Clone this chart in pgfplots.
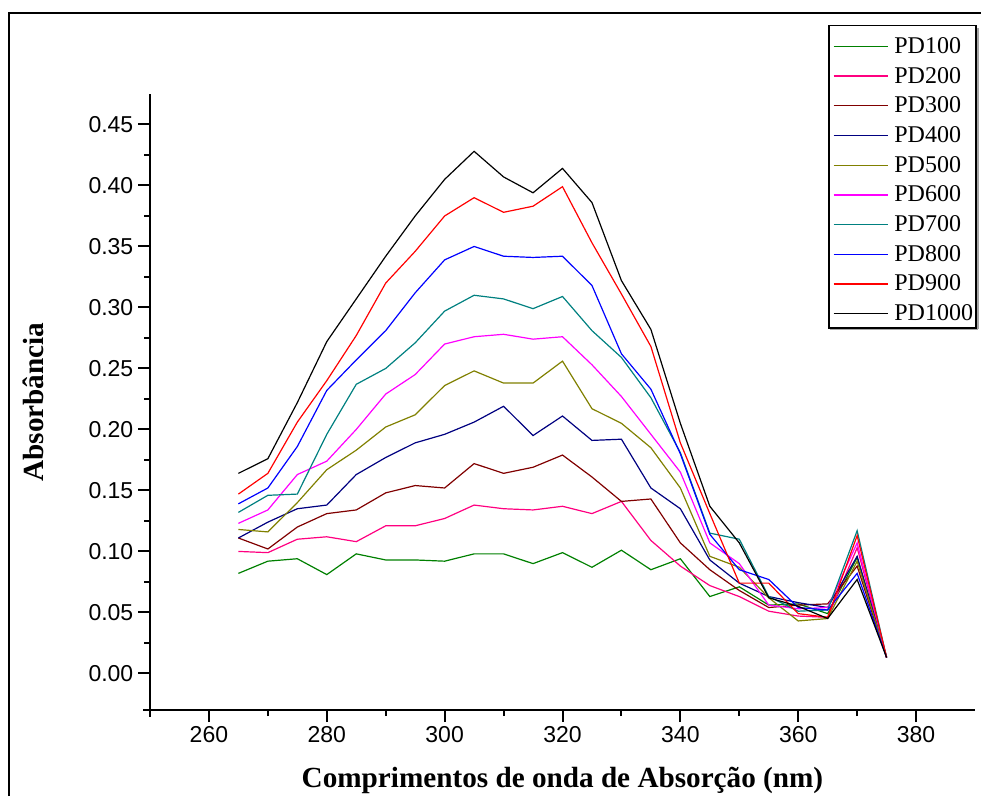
\documentclass[border=0pt]{standalone}
\usepackage{pgfplots}
\pgfplotsset{compat=1.18}
\usepackage{pgfplotstable}
\usepackage{fontspec}
\setmainfont{Liberation Serif}
\newfontfamily\arialfont{Liberation Sans}

\definecolor{pdA}{RGB}{0,128,0}
\definecolor{pdB}{RGB}{255,0,128}
\definecolor{pdC}{RGB}{128,0,0}
\definecolor{pdD}{RGB}{0,0,128}
\definecolor{pdE}{RGB}{128,128,0}
\definecolor{pdF}{RGB}{255,0,255}
\definecolor{pdG}{RGB}{0,128,128}
\definecolor{pdH}{RGB}{0,0,255}
\definecolor{pdI}{RGB}{255,0,0}
\definecolor{pdJ}{RGB}{0,0,0}

% absorbance spectra, wavelength in nm
\pgfplotstableread{
nm  PDa   PDb   PDc   PDd   PDe   PDf   PDg   PDh   PDi   PDj
265 0.082 0.100 0.111 0.111 0.118 0.123 0.132 0.139 0.147 0.164
270 0.092 0.099 0.102 0.124 0.116 0.134 0.146 0.152 0.164 0.176
275 0.094 0.110 0.120 0.135 0.140 0.163 0.147 0.186 0.206 0.222
280 0.081 0.112 0.131 0.138 0.167 0.174 0.196 0.232 0.240 0.272
285 0.098 0.108 0.134 0.163 0.183 0.200 0.237 0.257 0.277 0.307
290 0.093 0.121 0.148 0.177 0.202 0.229 0.250 0.281 0.320 0.342
295 0.093 0.121 0.154 0.189 0.212 0.245 0.271 0.312 0.346 0.375
300 0.092 0.127 0.152 0.196 0.236 0.270 0.297 0.339 0.375 0.405
305 0.098 0.138 0.172 0.206 0.248 0.276 0.310 0.350 0.390 0.428
310 0.098 0.135 0.164 0.219 0.238 0.278 0.307 0.342 0.378 0.407
315 0.090 0.134 0.169 0.195 0.238 0.274 0.299 0.341 0.383 0.394
320 0.099 0.137 0.179 0.211 0.256 0.276 0.309 0.342 0.399 0.414
325 0.087 0.131 0.161 0.191 0.217 0.253 0.281 0.318 0.353 0.386
330 0.101 0.141 0.141 0.192 0.205 0.227 0.259 0.262 0.311 0.322
335 0.085 0.109 0.143 0.152 0.185 0.196 0.226 0.233 0.268 0.282
340 0.094 0.088 0.107 0.135 0.152 0.165 0.181 0.180 0.189 0.205
345 0.063 0.072 0.085 0.093 0.096 0.107 0.115 0.114 0.131 0.137
350 0.071 0.063 0.068 0.074 0.087 0.090 0.110 0.085 0.074 0.107
355 0.056 0.051 0.054 0.063 0.062 0.056 0.063 0.077 0.074 0.062
360 0.057 0.047 0.056 0.058 0.043 0.053 0.051 0.054 0.049 0.055
365 0.049 0.046 0.057 0.054 0.045 0.054 0.052 0.052 0.046 0.045
370 0.095 0.103 0.088 0.096 0.092 0.107 0.117 0.082 0.113 0.077
375 0.013 0.013 0.013 0.013 0.013 0.013 0.013 0.013 0.013 0.013
}\spectra

\begin{document}
\begin{tikzpicture}[x=0.75pt,y=0.75pt]
\useasboundingbox (0,0) rectangle (981,796);
\begin{axis}[
  at={(112.5pt,64.5pt)}, anchor=south west,
  scale only axis, width=618.75pt, height=462pt,
  xmin=250, xmax=390, ymin=-0.03, ymax=0.475,
  axis lines=left,
  axis line style={-, line width=1.5pt, shorten <=-5pt},
  xtick={260,280,300,320,340,360,380},
  ytick={0,0.05,0.10,0.15,0.20,0.25,0.30,0.35,0.40,0.45},
  minor x tick num=1, minor y tick num=1,
  tick align=outside,
  major tick length=9pt, minor tick length=4.5pt,
  every tick/.style={line width=1.5pt, black},
  /pgf/number format/assume math mode=true,
  tick label style={font=\arialfont\fontsize{17.25}{20}\selectfont},
  yticklabel style={/pgf/number format/.cd, fixed, fixed zerofill, precision=2},
  xticklabel style={/pgf/number format/.cd, set thousands separator={}},
  xlabel={Comprimentos de onda de Absorção (nm)},
  ylabel={Absorbância},
  every axis x label/.style={at={(axis description cs:0.5,-0.1266)}, anchor=base,
    font=\bfseries\fontsize{21.9}{26}\selectfont},
  every axis y label/.style={at={(axis description cs:-0.1285,0.5)}, rotate=90, anchor=base,
    font=\bfseries\fontsize{21.9}{26}\selectfont},
  legend cell align=left,
  legend image code/.code={\path (0pt,0pt); \draw[#1, line width=1pt] (4pt,0pt) -- (45pt,0pt);},
  legend style={at={(axis description cs:1,1)}, anchor=north east,
    xshift=0.75pt, yshift=49.5pt, draw=none, fill=none,
    inner xsep=0.5pt, inner ysep=2.5pt,
    font=\fontsize{18}{21}\selectfont, column sep=2.5pt,
    nodes={inner ysep=4.4pt, inner xsep=1.5pt}},
  every axis plot/.append style={line width=0.9pt},
]
\addplot[pdA] table[x=nm, y=PDa] {\spectra};
\addlegendentry{PD100}
\addplot[pdB] table[x=nm, y=PDb] {\spectra};
\addlegendentry{PD200}
\addplot[pdC] table[x=nm, y=PDc] {\spectra};
\addlegendentry{PD300}
\addplot[pdD] table[x=nm, y=PDd] {\spectra};
\addlegendentry{PD400}
\addplot[pdE] table[x=nm, y=PDe] {\spectra};
\addlegendentry{PD500}
\addplot[pdF] table[x=nm, y=PDf] {\spectra};
\addlegendentry{PD600}
\addplot[pdG] table[x=nm, y=PDg] {\spectra};
\addlegendentry{PD700}
\addplot[pdH] table[x=nm, y=PDh] {\spectra};
\addlegendentry{PD800}
\addplot[pdI] table[x=nm, y=PDi] {\spectra};
\addlegendentry{PD900}
\addplot[pdJ] table[x=nm, y=PDj] {\spectra};
\addlegendentry{PD1000}
\end{axis}
% legend frame with its light shadow
\draw[gray!70, line width=1pt] (978,467) -- (978,768) (830,466.5) -- (978,466.5);
\draw[black, line width=0.8pt] (829,468) rectangle (976,770.5);
% page frame
\draw[line width=1.5pt] (9,0) -- (9,783) -- (981,783);
\end{tikzpicture}
\end{document}
